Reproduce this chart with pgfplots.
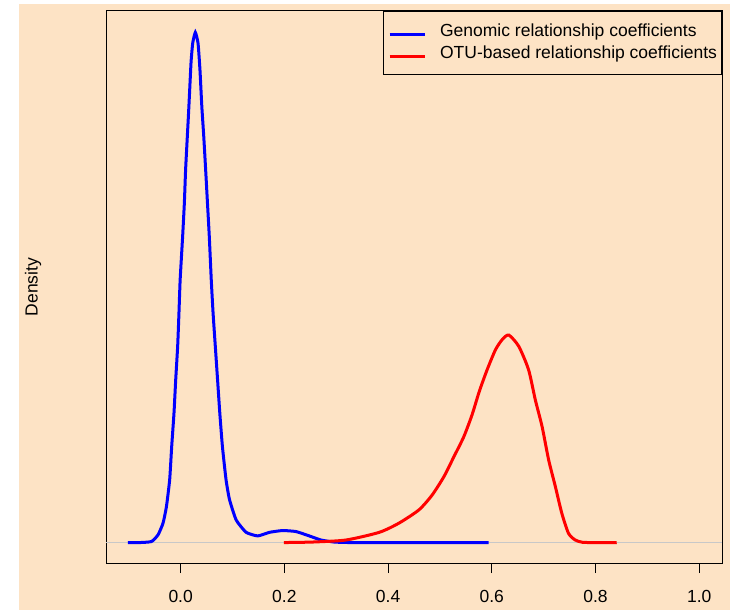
\documentclass[border=0pt]{standalone}
\usepackage{pgfplots}
\pgfplotsset{compat=1.18}
\usepackage{fontspec}
\setmainfont{Liberation Sans}
\definecolor{bisq}{RGB}{253,227,197}
\definecolor{zline}{RGB}{200,200,200}
\begin{document}
\begin{tikzpicture}
\useasboundingbox (0,0) rectangle (730pt,610pt);
\fill[bisq] (19pt,0) rectangle (730pt,606pt);
\node[rotate=90, font=\fontsize{17.5}{20}\selectfont] at (33pt,323pt) {Density};
\begin{axis}[
  at={(106pt,47pt)}, anchor=south west,
  scale only axis, width=616pt, height=552pt,
  xmin=-0.144, xmax=1.044, ymin=-0.4, ymax=10.4,
  axis line style={black, line width=1pt},
  xtick={0,0.2,0.4,0.6,0.8,1.0},
  xticklabels={0.0,0.2,0.4,0.6,0.8,1.0},
  ytick=\empty,
  xtick pos=bottom, tick align=outside,
  major tick length=10pt,
  tick style={black, line width=1pt},
  tick label style={font=\fontsize{17.5}{20}\selectfont},
  xticklabel style={yshift=-14pt},
  legend cell align=left,
  legend image code/.code={\draw[#1, line width=3pt] (0pt,-3pt) -- (35pt,-3pt);},
  legend style={at={(rel axis cs:1,1)}, anchor=north east, draw=black, line width=1pt, fill=none,
    font=\fontsize{17.5}{20}\selectfont, inner xsep=4.5pt, inner ysep=9.5pt,
    nodes={inner xsep=0pt, inner ysep=2.5pt, text height=13pt, text depth=4pt},
    column sep=14pt, row sep=0pt},
]
\addplot[zline, line width=1.2pt, forget plot] coordinates {(-0.144,0) (1.044,0)};
\addplot[blue, line width=3pt, smooth, tension=0.3] coordinates {
(-0.102,0) (-0.079,0) (-0.0563,0.02) (-0.0437,0.15) (-0.034,0.38) (-0.0275,0.70)
(-0.0212,1.23) (-0.0173,1.88) (-0.0129,2.53) (-0.0096,3.18) (-0.0058,3.84)
(-0.0033,4.49) (-0.001,5.14) (0.0038,5.99) (0.0071,6.64) (0.0095,7.29)
(0.0125,7.88) (0.0152,8.40) (0.0177,8.92) (0.0201,9.41) (0.0232,9.77)
(0.0283,9.98) (0.0335,9.77) (0.0372,9.25) (0.0408,8.53) (0.0445,7.95)
(0.0482,7.29) (0.0517,6.64) (0.0552,5.99) (0.059,5.14) (0.0625,4.49)
(0.0668,3.84) (0.0712,3.18) (0.0755,2.53) (0.0805,1.88) (0.0875,1.23)
(0.0942,0.84) (0.1071,0.44) (0.1263,0.20) (0.1487,0.13) (0.1712,0.20)
(0.1967,0.235) (0.2225,0.215) (0.248,0.13) (0.2706,0.05) (0.296,0.01)
(0.33,0) (0.45,0) (0.594,0)};
\addlegendentry{Genomic relationship coefficients}
\addplot[red, line width=3pt, smooth, tension=0.4] coordinates {
(0.199,0) (0.254,0.01) (0.319,0.05) (0.383,0.20) (0.421,0.38) (0.4596,0.64)
(0.485,0.93) (0.5077,1.29) (0.527,1.68) (0.546,2.07) (0.562,2.50) (0.576,2.96)
(0.591,3.38) (0.607,3.77) (0.620,3.97) (0.6327,4.06) (0.652,3.84) (0.671,3.38)
(0.684,2.79) (0.697,2.27) (0.7096,1.62) (0.7225,1.10) (0.735,0.575)
(0.748,0.18) (0.761,0.05) (0.775,0.005) (0.80,0) (0.841,0)};
\addlegendentry{OTU-based relationship coefficients}
\end{axis}
\end{tikzpicture}
\end{document}
